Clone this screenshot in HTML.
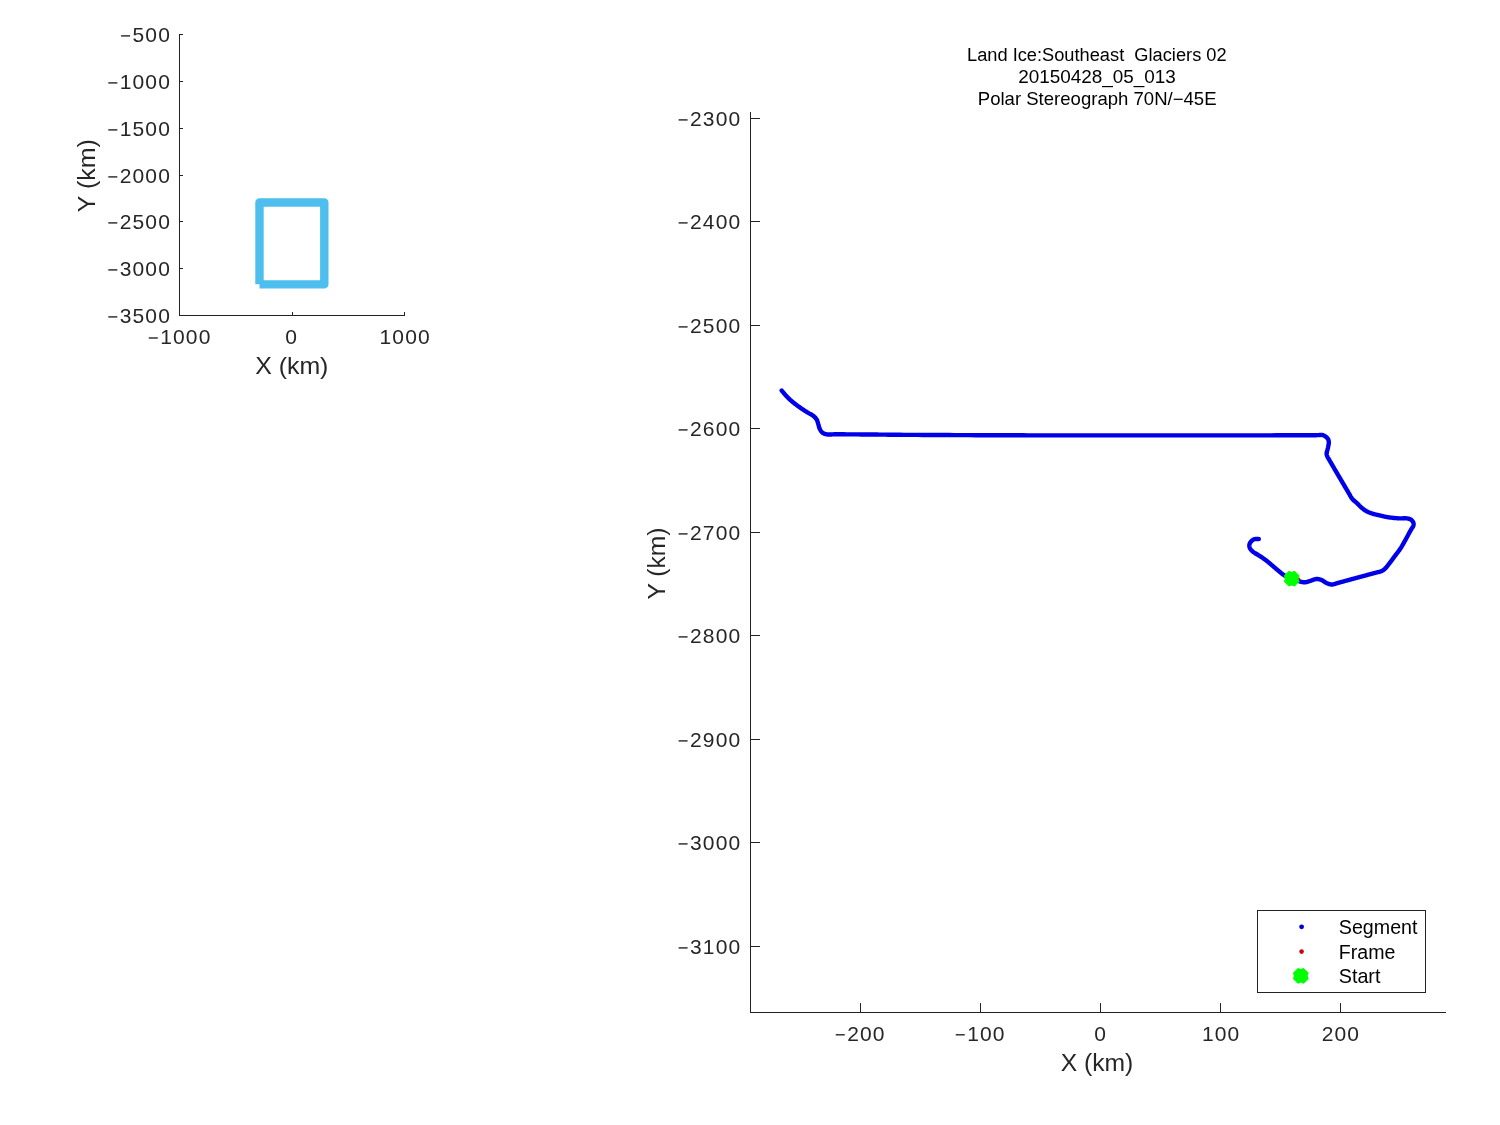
<!DOCTYPE html>
<html><head><meta charset="utf-8"><style>
html,body{margin:0;padding:0;background:#fff;width:1500px;height:1125px;overflow:hidden}
svg{display:block;font-family:"Liberation Sans", sans-serif;will-change:transform}
</style></head><body>
<svg width="1500" height="1125" viewBox="0 0 1500 1125">
<path d="M179.5 34 V316 M179 315.5 H405" fill="none" stroke="#222" stroke-width="1"/>
<path d="M180 34.5 h3 M180 81.5 h3 M180 128.5 h3 M180 175.5 h3 M180 221.5 h3 M180 268.5 h3 M180 315.5 h3 M179.5 315 v-3 M292.5 315 v-3 M404.5 315 v-3" stroke="#222" stroke-width="1" fill="none"/>
<path d="M259.5 284.3 V202.5 H324.3 V284.4 H259.5" fill="none" stroke="#4DBEEE" stroke-width="8.4" stroke-linejoin="round" stroke-linecap="butt"/>
<text x="132.58" y="41.90" font-size="21" letter-spacing="1.1" fill="#262626">500</text><rect x="121.08" y="35.20" width="9.0" height="1.4" fill="#262626"/>
<text x="119.80" y="88.90" font-size="21" letter-spacing="1.1" fill="#262626">1000</text><rect x="108.30" y="82.20" width="9.0" height="1.4" fill="#262626"/>
<text x="119.80" y="135.90" font-size="21" letter-spacing="1.1" fill="#262626">1500</text><rect x="108.30" y="129.20" width="9.0" height="1.4" fill="#262626"/>
<text x="119.80" y="182.90" font-size="21" letter-spacing="1.1" fill="#262626">2000</text><rect x="108.30" y="176.20" width="9.0" height="1.4" fill="#262626"/>
<text x="119.80" y="228.90" font-size="21" letter-spacing="1.1" fill="#262626">2500</text><rect x="108.30" y="222.20" width="9.0" height="1.4" fill="#262626"/>
<text x="119.80" y="275.90" font-size="21" letter-spacing="1.1" fill="#262626">3000</text><rect x="108.30" y="269.20" width="9.0" height="1.4" fill="#262626"/>
<text x="119.80" y="322.90" font-size="21" letter-spacing="1.1" fill="#262626">3500</text><rect x="108.30" y="316.20" width="9.0" height="1.4" fill="#262626"/>
<text x="160.30" y="344.00" font-size="21" letter-spacing="1.1" fill="#262626">1000</text><rect x="148.80" y="337.30" width="9.0" height="1.4" fill="#262626"/>
<text x="285.36" y="344.00" font-size="21" letter-spacing="1.1" fill="#262626">0</text>
<text x="379.60" y="344.00" font-size="21" letter-spacing="1.1" fill="#262626">1000</text>
<text transform="translate(255.14 374.00) scale(1.0163 1)" font-size="24.5" fill="#262626" xml:space="preserve">X (km)</text>
<text transform="translate(94.70 211.60) rotate(-90) translate(-0.55 0) scale(1.0190 1)" font-size="24.5" fill="#262626">Y (km)</text>
<path d="M750.5 112 V1013 M750 1012.5 H1446" fill="none" stroke="#222" stroke-width="1"/>
<text x="690.10" y="125.90" font-size="21" letter-spacing="1.1" fill="#262626">2300</text><rect x="678.60" y="119.20" width="9.0" height="1.4" fill="#262626"/>
<text x="690.10" y="228.90" font-size="21" letter-spacing="1.1" fill="#262626">2400</text><rect x="678.60" y="222.20" width="9.0" height="1.4" fill="#262626"/>
<text x="690.10" y="332.90" font-size="21" letter-spacing="1.1" fill="#262626">2500</text><rect x="678.60" y="326.20" width="9.0" height="1.4" fill="#262626"/>
<text x="690.10" y="435.90" font-size="21" letter-spacing="1.1" fill="#262626">2600</text><rect x="678.60" y="429.20" width="9.0" height="1.4" fill="#262626"/>
<text x="690.10" y="539.90" font-size="21" letter-spacing="1.1" fill="#262626">2700</text><rect x="678.60" y="533.20" width="9.0" height="1.4" fill="#262626"/>
<text x="690.10" y="642.90" font-size="21" letter-spacing="1.1" fill="#262626">2800</text><rect x="678.60" y="636.20" width="9.0" height="1.4" fill="#262626"/>
<text x="690.10" y="746.90" font-size="21" letter-spacing="1.1" fill="#262626">2900</text><rect x="678.60" y="740.20" width="9.0" height="1.4" fill="#262626"/>
<text x="690.10" y="849.90" font-size="21" letter-spacing="1.1" fill="#262626">3000</text><rect x="678.60" y="843.20" width="9.0" height="1.4" fill="#262626"/>
<text x="690.10" y="953.90" font-size="21" letter-spacing="1.1" fill="#262626">3100</text><rect x="678.60" y="947.20" width="9.0" height="1.4" fill="#262626"/>
<text x="847.24" y="1040.80" font-size="21" letter-spacing="1.1" fill="#262626">200</text><rect x="835.74" y="1034.10" width="9.0" height="1.4" fill="#262626"/>
<text x="967.24" y="1040.80" font-size="21" letter-spacing="1.1" fill="#262626">100</text><rect x="955.74" y="1034.10" width="9.0" height="1.4" fill="#262626"/>
<text x="1094.36" y="1040.80" font-size="21" letter-spacing="1.1" fill="#262626">0</text>
<text x="1201.94" y="1040.80" font-size="21" letter-spacing="1.1" fill="#262626">100</text>
<text x="1321.81" y="1040.80" font-size="21" letter-spacing="1.1" fill="#262626">200</text>
<path d="M751 118.5 h9 M751 221.5 h9 M751 325.5 h9 M751 428.5 h9 M751 532.5 h9 M751 635.5 h9 M751 739.5 h9 M751 842.5 h9 M751 946.5 h9 M860.5 1012 v-9 M980.5 1012 v-9 M1100.5 1012 v-9 M1220.5 1012 v-9 M1340.5 1012 v-9" stroke="#222" stroke-width="1" fill="none"/>
<text transform="translate(1060.65 1071.10) scale(1.0078 1)" font-size="24.5" fill="#262626" xml:space="preserve">X (km)</text>
<text transform="translate(664.70 599.00) rotate(-90) translate(-0.54 0) scale(1.0062 1)" font-size="24.5" fill="#262626">Y (km)</text>
<text transform="translate(967.00 60.90) scale(1.0257 1)" font-size="17.8" fill="#000" xml:space="preserve">Land Ice:Southeast  Glaciers 02</text>
<text transform="translate(1018.15 82.80) scale(1.0626 1)" font-size="17.8" fill="#000" xml:space="preserve">20150428_05_013</text>
<text transform="translate(977.78 104.70) scale(1.0430 1)" font-size="17.8" fill="#000" xml:space="preserve">Polar Stereograph 70N/−45E</text>
<path d="M781.70 390.50 L781.73 390.54 L781.81 390.64 L781.95 390.81 L782.12 391.03 L782.34 391.30 L782.59 391.61 L782.86 391.95 L783.16 392.31 L783.48 392.70 L783.81 393.09 L784.14 393.49 L784.47 393.89 L784.80 394.27 L785.12 394.64 L785.42 394.99 L785.70 395.30 L785.98 395.60 L786.26 395.91 L786.54 396.21 L786.81 396.50 L787.10 396.80 L787.38 397.10 L787.66 397.39 L787.95 397.68 L788.25 397.98 L788.55 398.28 L788.85 398.57 L789.16 398.87 L789.49 399.18 L789.81 399.48 L790.15 399.79 L790.50 400.10 L790.96 400.50 L791.43 400.91 L791.93 401.33 L792.43 401.75 L792.96 402.18 L793.49 402.61 L794.03 403.04 L794.58 403.47 L795.13 403.91 L795.69 404.34 L796.25 404.76 L796.81 405.19 L797.37 405.60 L797.92 406.01 L798.46 406.41 L799.00 406.80 L799.50 407.16 L800.01 407.52 L800.51 407.87 L801.02 408.22 L801.52 408.56 L802.03 408.90 L802.54 409.24 L803.05 409.57 L803.55 409.90 L804.05 410.23 L804.55 410.55 L805.05 410.87 L805.55 411.18 L806.03 411.49 L806.52 411.80 L807.00 412.10 L807.43 412.36 L807.86 412.62 L808.29 412.87 L808.73 413.11 L809.16 413.35 L809.60 413.58 L810.03 413.81 L810.45 414.05 L810.87 414.28 L811.29 414.51 L811.69 414.74 L812.08 414.98 L812.46 415.23 L812.82 415.48 L813.17 415.73 L813.50 416.00 L813.76 416.22 L814.01 416.44 L814.25 416.67 L814.49 416.89 L814.72 417.12 L814.95 417.35 L815.16 417.58 L815.37 417.82 L815.58 418.06 L815.77 418.30 L815.96 418.54 L816.14 418.78 L816.32 419.03 L816.48 419.29 L816.65 419.54 L816.80 419.80 L816.94 420.05 L817.06 420.30 L817.18 420.56 L817.29 420.82 L817.39 421.09 L817.49 421.36 L817.57 421.63 L817.66 421.90 L817.74 422.17 L817.82 422.45 L817.89 422.72 L817.97 423.00 L818.05 423.27 L818.13 423.55 L818.21 423.83 L818.30 424.10 L818.39 424.38 L818.47 424.67 L818.55 424.96 L818.63 425.25 L818.70 425.54 L818.77 425.84 L818.85 426.13 L818.92 426.42 L819.00 426.72 L819.08 427.01 L819.16 427.30 L819.25 427.59 L819.35 427.87 L819.46 428.15 L819.57 428.43 L819.70 428.70 L819.84 428.98 L819.98 429.26 L820.13 429.54 L820.28 429.83 L820.44 430.11 L820.60 430.39 L820.77 430.67 L820.94 430.94 L821.12 431.21 L821.31 431.47 L821.51 431.72 L821.71 431.96 L821.92 432.19 L822.14 432.41 L822.37 432.61 L822.60 432.80 L822.84 432.97 L823.09 433.13 L823.35 433.27 L823.62 433.41 L823.89 433.53 L824.17 433.65 L824.46 433.75 L824.75 433.85 L825.05 433.94 L825.36 434.02 L825.67 434.09 L825.99 434.16 L826.31 434.23 L826.64 434.29 L826.97 434.35 L827.30 434.40 L827.71 434.46 L828.13 434.50 L828.54 434.52 L828.95 434.54 L829.37 434.54 L829.79 434.53 L830.23 434.51 L830.67 434.49 L831.14 434.46 L831.61 434.43 L832.11 434.40 L832.64 434.37 L833.18 434.34 L833.76 434.32 L834.36 434.31 L835.00 434.30 L836.50 434.30 L838.18 434.30 L840.04 434.30 L842.03 434.31 L844.16 434.32 L846.39 434.33 L848.71 434.34 L851.09 434.36 L853.51 434.37 L855.96 434.39 L858.41 434.41 L860.85 434.43 L863.24 434.45 L865.58 434.46 L867.84 434.48 L870.00 434.50 L871.91 434.52 L873.76 434.53 L875.56 434.55 L877.32 434.57 L879.06 434.59 L880.79 434.61 L882.51 434.63 L884.24 434.65 L886.00 434.67 L887.80 434.69 L889.64 434.71 L891.54 434.73 L893.52 434.74 L895.58 434.76 L897.73 434.78 L900.00 434.80 L903.96 434.83 L908.24 434.86 L912.78 434.89 L917.56 434.91 L922.54 434.94 L927.69 434.97 L932.96 435.00 L938.31 435.02 L943.72 435.05 L949.15 435.07 L954.56 435.10 L959.91 435.12 L965.16 435.14 L970.29 435.16 L975.25 435.18 L980.00 435.20 L983.93 435.21 L987.72 435.23 L991.37 435.24 L994.93 435.25 L998.42 435.26 L1001.86 435.27 L1005.29 435.28 L1008.74 435.29 L1012.22 435.30 L1015.77 435.31 L1019.41 435.32 L1023.17 435.32 L1027.09 435.33 L1031.18 435.34 L1035.47 435.34 L1040.00 435.35 L1047.96 435.36 L1056.57 435.37 L1065.77 435.38 L1075.47 435.38 L1085.57 435.39 L1096.01 435.40 L1106.69 435.40 L1117.53 435.40 L1128.45 435.40 L1139.36 435.41 L1150.18 435.41 L1160.83 435.41 L1171.22 435.41 L1181.27 435.40 L1190.89 435.40 L1200.00 435.40 L1207.07 435.40 L1214.28 435.39 L1221.58 435.39 L1228.92 435.38 L1236.24 435.37 L1243.48 435.36 L1250.60 435.36 L1257.53 435.35 L1264.23 435.34 L1270.64 435.33 L1276.71 435.32 L1282.37 435.32 L1287.59 435.31 L1292.31 435.31 L1296.46 435.30 L1300.00 435.30 L1301.08 435.30 L1302.08 435.30 L1303.02 435.30 L1303.90 435.31 L1304.73 435.31 L1305.51 435.31 L1306.25 435.32 L1306.96 435.32 L1307.63 435.32 L1308.28 435.32 L1308.91 435.32 L1309.53 435.32 L1310.14 435.32 L1310.75 435.31 L1311.37 435.31 L1312.00 435.30 L1312.46 435.29 L1312.92 435.28 L1313.37 435.27 L1313.80 435.26 L1314.24 435.25 L1314.66 435.23 L1315.07 435.22 L1315.48 435.21 L1315.88 435.19 L1316.28 435.18 L1316.66 435.16 L1317.04 435.15 L1317.42 435.14 L1317.78 435.12 L1318.14 435.11 L1318.50 435.10 L1318.77 435.09 L1319.03 435.07 L1319.28 435.05 L1319.53 435.03 L1319.78 435.01 L1320.02 434.98 L1320.26 434.96 L1320.49 434.94 L1320.72 434.92 L1320.95 434.91 L1321.18 434.90 L1321.40 434.90 L1321.63 434.91 L1321.85 434.93 L1322.08 434.96 L1322.30 435.00 L1322.52 435.05 L1322.74 435.11 L1322.96 435.18 L1323.17 435.26 L1323.39 435.34 L1323.60 435.43 L1323.82 435.53 L1324.03 435.63 L1324.23 435.74 L1324.44 435.85 L1324.64 435.97 L1324.84 436.09 L1325.04 436.21 L1325.23 436.34 L1325.42 436.47 L1325.60 436.60 L1325.78 436.73 L1325.96 436.87 L1326.14 437.01 L1326.32 437.16 L1326.50 437.31 L1326.67 437.46 L1326.84 437.62 L1327.01 437.78 L1327.17 437.95 L1327.33 438.12 L1327.48 438.29 L1327.62 438.46 L1327.75 438.64 L1327.88 438.83 L1327.99 439.01 L1328.10 439.20 L1328.19 439.39 L1328.28 439.58 L1328.36 439.79 L1328.43 439.99 L1328.49 440.20 L1328.54 440.41 L1328.59 440.63 L1328.63 440.85 L1328.67 441.07 L1328.70 441.29 L1328.73 441.51 L1328.75 441.73 L1328.77 441.95 L1328.78 442.17 L1328.79 442.39 L1328.80 442.60 L1328.80 442.81 L1328.80 443.02 L1328.78 443.23 L1328.77 443.44 L1328.74 443.65 L1328.71 443.86 L1328.68 444.07 L1328.64 444.28 L1328.60 444.49 L1328.56 444.71 L1328.52 444.92 L1328.47 445.13 L1328.43 445.35 L1328.39 445.56 L1328.34 445.78 L1328.30 446.00 L1328.25 446.24 L1328.20 446.49 L1328.15 446.73 L1328.10 446.98 L1328.04 447.23 L1327.99 447.48 L1327.93 447.73 L1327.87 447.99 L1327.81 448.24 L1327.75 448.49 L1327.69 448.75 L1327.63 449.00 L1327.57 449.25 L1327.51 449.50 L1327.45 449.75 L1327.40 450.00 L1327.34 450.24 L1327.28 450.48 L1327.22 450.73 L1327.15 450.97 L1327.08 451.21 L1327.01 451.45 L1326.94 451.69 L1326.88 451.94 L1326.81 452.18 L1326.76 452.41 L1326.71 452.65 L1326.66 452.89 L1326.63 453.12 L1326.61 453.35 L1326.60 453.58 L1326.60 453.80 L1326.61 454.00 L1326.63 454.19 L1326.66 454.38 L1326.70 454.57 L1326.74 454.76 L1326.79 454.95 L1326.84 455.13 L1326.90 455.31 L1326.97 455.50 L1327.03 455.68 L1327.11 455.86 L1327.18 456.05 L1327.26 456.23 L1327.34 456.42 L1327.42 456.61 L1327.50 456.80 L1327.60 457.02 L1327.70 457.24 L1327.81 457.46 L1327.93 457.68 L1328.05 457.90 L1328.18 458.12 L1328.30 458.35 L1328.44 458.57 L1328.57 458.80 L1328.71 459.02 L1328.86 459.26 L1329.00 459.49 L1329.15 459.74 L1329.30 459.98 L1329.45 460.24 L1329.60 460.50 L1329.81 460.86 L1330.03 461.24 L1330.25 461.62 L1330.48 462.02 L1330.71 462.42 L1330.95 462.83 L1331.19 463.25 L1331.44 463.67 L1331.69 464.10 L1331.94 464.54 L1332.20 464.98 L1332.46 465.42 L1332.72 465.86 L1332.98 466.31 L1333.24 466.75 L1333.50 467.20 L1333.80 467.71 L1334.10 468.23 L1334.41 468.76 L1334.72 469.29 L1335.04 469.83 L1335.36 470.38 L1335.68 470.93 L1336.00 471.48 L1336.33 472.03 L1336.65 472.58 L1336.98 473.14 L1337.30 473.70 L1337.63 474.25 L1337.95 474.80 L1338.28 475.35 L1338.60 475.90 L1338.92 476.45 L1339.25 477.00 L1339.57 477.55 L1339.90 478.10 L1340.22 478.65 L1340.55 479.20 L1340.87 479.75 L1341.20 480.30 L1341.52 480.85 L1341.85 481.40 L1342.17 481.95 L1342.50 482.50 L1342.82 483.05 L1343.15 483.60 L1343.47 484.15 L1343.80 484.70 L1344.13 485.25 L1344.46 485.82 L1344.79 486.38 L1345.13 486.95 L1345.47 487.53 L1345.80 488.10 L1346.14 488.67 L1346.48 489.24 L1346.81 489.80 L1347.14 490.36 L1347.47 490.92 L1347.79 491.46 L1348.10 491.99 L1348.41 492.51 L1348.71 493.01 L1349.00 493.50 L1349.22 493.87 L1349.43 494.23 L1349.63 494.59 L1349.82 494.94 L1350.01 495.29 L1350.19 495.63 L1350.37 495.97 L1350.55 496.30 L1350.74 496.62 L1350.93 496.95 L1351.12 497.26 L1351.31 497.58 L1351.52 497.89 L1351.74 498.19 L1351.96 498.50 L1352.20 498.80 L1352.46 499.10 L1352.73 499.40 L1353.00 499.68 L1353.29 499.96 L1353.58 500.24 L1353.88 500.51 L1354.18 500.78 L1354.49 501.04 L1354.80 501.30 L1355.12 501.57 L1355.44 501.83 L1355.75 502.10 L1356.07 502.37 L1356.38 502.64 L1356.69 502.92 L1357.00 503.20 L1357.32 503.51 L1357.65 503.82 L1357.97 504.15 L1358.29 504.47 L1358.61 504.80 L1358.93 505.13 L1359.25 505.47 L1359.58 505.80 L1359.90 506.13 L1360.23 506.46 L1360.56 506.78 L1360.90 507.10 L1361.24 507.41 L1361.59 507.72 L1361.94 508.01 L1362.30 508.30 L1362.66 508.58 L1363.02 508.85 L1363.37 509.12 L1363.72 509.38 L1364.08 509.63 L1364.43 509.89 L1364.80 510.13 L1365.17 510.37 L1365.55 510.61 L1365.94 510.85 L1366.34 511.08 L1366.75 511.31 L1367.19 511.53 L1367.64 511.76 L1368.11 511.98 L1368.60 512.20 L1369.39 512.53 L1370.24 512.85 L1371.15 513.17 L1372.10 513.48 L1373.09 513.79 L1374.12 514.09 L1375.17 514.39 L1376.24 514.67 L1377.33 514.95 L1378.42 515.22 L1379.51 515.48 L1380.59 515.73 L1381.66 515.96 L1382.70 516.19 L1383.72 516.40 L1384.70 516.60 L1385.55 516.77 L1386.40 516.92 L1387.25 517.07 L1388.10 517.21 L1388.94 517.34 L1389.78 517.46 L1390.61 517.57 L1391.43 517.68 L1392.25 517.78 L1393.07 517.87 L1393.88 517.96 L1394.68 518.03 L1395.47 518.11 L1396.26 518.18 L1397.03 518.24 L1397.80 518.30 L1398.46 518.34 L1399.14 518.36 L1399.81 518.37 L1400.49 518.37 L1401.16 518.37 L1401.83 518.35 L1402.50 518.33 L1403.15 518.32 L1403.79 518.30 L1404.42 518.29 L1405.03 518.29 L1405.61 518.30 L1406.18 518.32 L1406.72 518.36 L1407.22 518.42 L1407.70 518.50 L1407.98 518.56 L1408.25 518.62 L1408.52 518.68 L1408.77 518.74 L1409.02 518.81 L1409.26 518.88 L1409.49 518.96 L1409.71 519.04 L1409.93 519.12 L1410.14 519.21 L1410.35 519.31 L1410.55 519.41 L1410.74 519.52 L1410.93 519.64 L1411.12 519.77 L1411.30 519.90 L1411.47 520.04 L1411.64 520.19 L1411.81 520.35 L1411.97 520.51 L1412.13 520.68 L1412.28 520.86 L1412.43 521.05 L1412.57 521.24 L1412.71 521.43 L1412.83 521.62 L1412.95 521.82 L1413.06 522.02 L1413.16 522.22 L1413.25 522.41 L1413.33 522.61 L1413.40 522.80 L1413.45 522.97 L1413.49 523.14 L1413.53 523.31 L1413.56 523.48 L1413.58 523.65 L1413.60 523.82 L1413.61 523.99 L1413.61 524.16 L1413.61 524.34 L1413.59 524.51 L1413.58 524.69 L1413.55 524.87 L1413.52 525.05 L1413.49 525.23 L1413.45 525.41 L1413.40 525.60 L1413.32 525.85 L1413.23 526.09 L1413.13 526.33 L1413.01 526.57 L1412.87 526.81 L1412.73 527.05 L1412.57 527.30 L1412.41 527.55 L1412.24 527.81 L1412.06 528.07 L1411.87 528.35 L1411.68 528.63 L1411.49 528.93 L1411.29 529.24 L1411.10 529.56 L1410.90 529.90 L1410.52 530.57 L1410.10 531.33 L1409.65 532.16 L1409.16 533.05 L1408.65 533.98 L1408.13 534.95 L1407.59 535.95 L1407.04 536.96 L1406.49 537.97 L1405.95 538.97 L1405.41 539.95 L1404.89 540.89 L1404.40 541.79 L1403.93 542.63 L1403.50 543.41 L1403.10 544.10 L1402.89 544.47 L1402.69 544.82 L1402.50 545.15 L1402.31 545.47 L1402.14 545.77 L1401.97 546.06 L1401.81 546.34 L1401.64 546.62 L1401.48 546.89 L1401.32 547.16 L1401.15 547.43 L1400.98 547.71 L1400.80 547.99 L1400.61 548.28 L1400.41 548.58 L1400.20 548.90 L1399.92 549.31 L1399.63 549.73 L1399.32 550.16 L1399.00 550.59 L1398.68 551.03 L1398.35 551.48 L1398.01 551.92 L1397.67 552.38 L1397.32 552.83 L1396.97 553.29 L1396.62 553.74 L1396.27 554.20 L1395.92 554.65 L1395.58 555.10 L1395.23 555.55 L1394.90 556.00 L1394.57 556.45 L1394.24 556.89 L1393.90 557.34 L1393.57 557.80 L1393.24 558.25 L1392.90 558.70 L1392.57 559.16 L1392.24 559.61 L1391.90 560.06 L1391.57 560.51 L1391.24 560.95 L1390.91 561.39 L1390.58 561.83 L1390.25 562.26 L1389.93 562.68 L1389.60 563.10 L1389.31 563.48 L1389.01 563.86 L1388.72 564.24 L1388.43 564.62 L1388.14 565.00 L1387.85 565.38 L1387.56 565.76 L1387.28 566.13 L1386.99 566.49 L1386.70 566.85 L1386.42 567.19 L1386.13 567.52 L1385.85 567.84 L1385.56 568.14 L1385.28 568.43 L1385.00 568.70 L1384.79 568.89 L1384.59 569.07 L1384.40 569.24 L1384.20 569.40 L1384.01 569.56 L1383.82 569.71 L1383.63 569.86 L1383.44 570.00 L1383.25 570.13 L1383.05 570.26 L1382.84 570.39 L1382.63 570.51 L1382.41 570.64 L1382.19 570.76 L1381.95 570.88 L1381.70 571.00 L1381.36 571.15 L1381.00 571.30 L1380.63 571.43 L1380.25 571.56 L1379.85 571.68 L1379.44 571.79 L1379.03 571.90 L1378.60 572.01 L1378.17 572.12 L1377.73 572.22 L1377.28 572.33 L1376.83 572.44 L1376.38 572.54 L1375.92 572.66 L1375.46 572.78 L1375.00 572.90 L1374.43 573.06 L1373.85 573.22 L1373.25 573.38 L1372.64 573.55 L1372.02 573.71 L1371.40 573.88 L1370.76 574.05 L1370.13 574.22 L1369.48 574.40 L1368.84 574.57 L1368.19 574.74 L1367.55 574.92 L1366.90 575.09 L1366.26 575.26 L1365.63 575.43 L1365.00 575.60 L1364.38 575.77 L1363.75 575.94 L1363.12 576.11 L1362.50 576.27 L1361.88 576.44 L1361.25 576.61 L1360.62 576.78 L1360.00 576.95 L1359.38 577.12 L1358.75 577.29 L1358.12 577.46 L1357.50 577.62 L1356.88 577.79 L1356.25 577.96 L1355.62 578.13 L1355.00 578.30 L1354.37 578.47 L1353.74 578.64 L1353.10 578.81 L1352.47 578.98 L1351.83 579.15 L1351.19 579.33 L1350.55 579.50 L1349.91 579.67 L1349.27 579.84 L1348.64 580.01 L1348.02 580.18 L1347.40 580.35 L1346.79 580.51 L1346.18 580.68 L1345.59 580.84 L1345.00 581.00 L1344.50 581.14 L1344.00 581.28 L1343.52 581.42 L1343.03 581.55 L1342.55 581.69 L1342.07 581.83 L1341.60 581.96 L1341.13 582.10 L1340.67 582.23 L1340.21 582.36 L1339.75 582.49 L1339.29 582.62 L1338.84 582.74 L1338.39 582.87 L1337.94 582.98 L1337.50 583.10 L1337.11 583.21 L1336.72 583.32 L1336.33 583.43 L1335.94 583.55 L1335.56 583.68 L1335.18 583.80 L1334.80 583.91 L1334.42 584.02 L1334.05 584.13 L1333.68 584.23 L1333.31 584.31 L1332.94 584.38 L1332.58 584.44 L1332.22 584.48 L1331.86 584.50 L1331.50 584.50 L1331.17 584.48 L1330.85 584.45 L1330.53 584.40 L1330.21 584.34 L1329.89 584.27 L1329.58 584.19 L1329.26 584.10 L1328.95 584.00 L1328.64 583.89 L1328.33 583.78 L1328.03 583.65 L1327.72 583.53 L1327.41 583.40 L1327.11 583.27 L1326.80 583.13 L1326.50 583.00 L1326.18 582.85 L1325.86 582.68 L1325.55 582.50 L1325.24 582.31 L1324.93 582.10 L1324.62 581.89 L1324.31 581.68 L1324.00 581.47 L1323.70 581.25 L1323.39 581.04 L1323.08 580.84 L1322.77 580.64 L1322.46 580.46 L1322.14 580.29 L1321.82 580.14 L1321.50 580.00 L1321.20 579.88 L1320.89 579.77 L1320.59 579.67 L1320.29 579.57 L1319.98 579.47 L1319.67 579.39 L1319.37 579.31 L1319.06 579.23 L1318.74 579.17 L1318.43 579.11 L1318.12 579.07 L1317.80 579.03 L1317.48 579.01 L1317.16 578.99 L1316.83 578.99 L1316.50 579.00 L1316.11 579.03 L1315.72 579.09 L1315.32 579.17 L1314.91 579.27 L1314.50 579.39 L1314.08 579.53 L1313.67 579.67 L1313.25 579.82 L1312.83 579.98 L1312.41 580.14 L1312.00 580.30 L1311.59 580.46 L1311.18 580.61 L1310.78 580.75 L1310.39 580.88 L1310.00 581.00 L1309.67 581.10 L1309.35 581.20 L1309.02 581.30 L1308.71 581.40 L1308.39 581.51 L1308.08 581.61 L1307.77 581.71 L1307.46 581.81 L1307.16 581.90 L1306.85 581.99 L1306.55 582.06 L1306.24 582.13 L1305.93 582.19 L1305.62 582.24 L1305.31 582.28 L1305.00 582.30 L1304.69 582.31 L1304.39 582.31 L1304.08 582.30 L1303.78 582.27 L1303.48 582.24 L1303.18 582.20 L1302.88 582.16 L1302.58 582.10 L1302.27 582.04 L1301.96 581.98 L1301.65 581.91 L1301.33 581.83 L1301.01 581.75 L1300.68 581.67 L1300.35 581.59 L1300.00 581.50 L1299.53 581.38 L1299.03 581.24 L1298.53 581.10 L1298.01 580.94 L1297.47 580.77 L1296.93 580.60 L1296.39 580.41 L1295.83 580.22 L1295.28 580.03 L1294.73 579.83 L1294.17 579.63 L1293.62 579.42 L1293.08 579.22 L1292.54 579.01 L1292.01 578.80 L1291.50 578.60 L1291.02 578.41 L1290.53 578.22 L1290.05 578.02 L1289.58 577.83 L1289.10 577.64 L1288.62 577.44 L1288.15 577.24 L1287.68 577.03 L1287.22 576.83 L1286.76 576.61 L1286.30 576.40 L1285.85 576.17 L1285.41 575.94 L1284.96 575.70 L1284.53 575.46 L1284.10 575.20 L1283.69 574.94 L1283.28 574.67 L1282.89 574.39 L1282.49 574.11 L1282.11 573.82 L1281.72 573.52 L1281.35 573.22 L1280.97 572.91 L1280.60 572.60 L1280.23 572.28 L1279.86 571.97 L1279.49 571.65 L1279.12 571.34 L1278.75 571.02 L1278.38 570.71 L1278.00 570.40 L1277.62 570.09 L1277.24 569.77 L1276.87 569.46 L1276.49 569.14 L1276.12 568.82 L1275.74 568.50 L1275.37 568.18 L1274.99 567.86 L1274.62 567.54 L1274.25 567.22 L1273.87 566.90 L1273.50 566.58 L1273.12 566.26 L1272.75 565.94 L1272.38 565.62 L1272.00 565.30 L1271.63 564.98 L1271.25 564.67 L1270.88 564.35 L1270.51 564.03 L1270.14 563.71 L1269.77 563.40 L1269.40 563.08 L1269.03 562.76 L1268.66 562.45 L1268.28 562.13 L1267.91 561.82 L1267.53 561.51 L1267.15 561.20 L1266.77 560.90 L1266.39 560.60 L1266.00 560.30 L1265.61 560.00 L1265.21 559.71 L1264.81 559.42 L1264.41 559.13 L1264.01 558.84 L1263.60 558.56 L1263.19 558.28 L1262.78 558.00 L1262.38 557.72 L1261.96 557.44 L1261.55 557.16 L1261.14 556.89 L1260.73 556.61 L1260.32 556.34 L1259.91 556.07 L1259.50 555.80 L1259.09 555.54 L1258.67 555.28 L1258.25 555.02 L1257.81 554.76 L1257.38 554.51 L1256.94 554.26 L1256.51 554.01 L1256.08 553.76 L1255.65 553.51 L1255.23 553.26 L1254.82 553.01 L1254.43 552.75 L1254.04 552.50 L1253.68 552.24 L1253.33 551.97 L1253.00 551.70 L1252.75 551.48 L1252.51 551.27 L1252.27 551.05 L1252.04 550.83 L1251.81 550.62 L1251.59 550.40 L1251.38 550.17 L1251.17 549.95 L1250.97 549.73 L1250.79 549.50 L1250.61 549.27 L1250.44 549.04 L1250.29 548.81 L1250.15 548.58 L1250.02 548.34 L1249.90 548.10 L1249.81 547.89 L1249.73 547.68 L1249.65 547.46 L1249.58 547.24 L1249.52 547.02 L1249.47 546.80 L1249.42 546.57 L1249.38 546.35 L1249.35 546.13 L1249.33 545.90 L1249.32 545.68 L1249.32 545.46 L1249.33 545.24 L1249.34 545.02 L1249.37 544.81 L1249.40 544.60 L1249.45 544.39 L1249.50 544.18 L1249.58 543.96 L1249.66 543.75 L1249.75 543.54 L1249.85 543.33 L1249.96 543.12 L1250.08 542.91 L1250.20 542.71 L1250.33 542.51 L1250.47 542.31 L1250.61 542.12 L1250.75 541.93 L1250.90 541.75 L1251.05 541.57 L1251.20 541.40 L1251.36 541.23 L1251.52 541.06 L1251.69 540.89 L1251.86 540.73 L1252.04 540.57 L1252.23 540.41 L1252.41 540.26 L1252.61 540.11 L1252.81 539.97 L1253.01 539.84 L1253.22 539.71 L1253.43 539.59 L1253.64 539.48 L1253.86 539.38 L1254.08 539.28 L1254.30 539.20 L1254.57 539.12 L1254.87 539.06 L1255.20 539.02 L1255.55 538.98 L1255.92 538.96 L1256.30 538.94 L1256.67 538.93 L1257.04 538.93 L1257.39 538.94 L1257.72 538.95 L1258.02 538.96 L1258.28 538.97 L1258.50 538.98 L1258.66 538.99 L1258.76 539.00 L1258.80 539.00" fill="none" stroke="#0000E8" stroke-width="4.4" stroke-linejoin="round" stroke-linecap="round"/>
<circle cx="1298.9" cy="579" r="1.3" fill="#D00018"/>
<path d="M1288.80 570.80 L1291.70 571.90 L1294.60 570.80 L1299.60 575.80 L1298.50 578.70 L1299.60 581.60 L1294.60 586.60 L1291.70 585.50 L1288.80 586.60 L1283.80 581.60 L1284.90 578.70 L1283.80 575.80 Z" fill="#00FF00"/>
<rect x="1257.5" y="910.5" width="168" height="82" fill="#fff" stroke="#222" stroke-width="1"/>
<circle cx="1301.6" cy="926.8" r="2.4" fill="#0000C8"/>
<circle cx="1301.6" cy="951.6" r="2.3" fill="#D00018"/>
<path d="M1297.90 967.90 L1300.80 969.00 L1303.70 967.90 L1308.70 972.90 L1307.60 975.80 L1308.70 978.70 L1303.70 983.70 L1300.80 982.60 L1297.90 983.70 L1292.90 978.70 L1294.00 975.80 L1292.90 972.90 Z" fill="#00FF00"/>
<text transform="translate(1338.81 934.20) scale(0.9836 1)" font-size="20" fill="#000" xml:space="preserve">Segment</text>
<text transform="translate(1338.79 959.20) scale(0.9791 1)" font-size="20" fill="#000" xml:space="preserve">Frame</text>
<text transform="translate(1338.80 983.10) scale(0.9859 1)" font-size="20" fill="#000" xml:space="preserve">Start</text>
</svg>
</body></html>
